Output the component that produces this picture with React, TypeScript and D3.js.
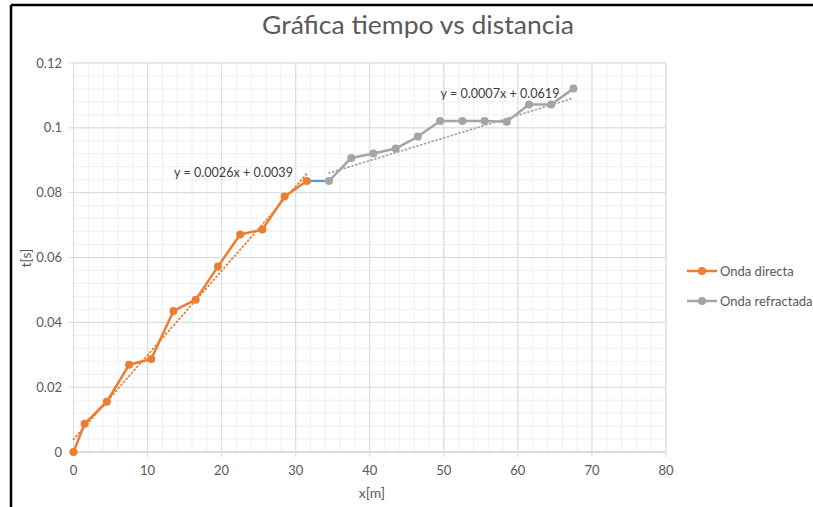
import React from "react";
import * as d3 from "d3";

// Distance (m) and travel time (s) readings
const directX = [0, 1.5, 4.5, 7.5, 10.5, 13.5, 16.5, 19.5, 22.5, 25.5, 28.5, 31.5];
const directT = [0, 0.0087, 0.0155, 0.0269, 0.0287, 0.0435, 0.047, 0.0572, 0.0671, 0.0686, 0.0788, 0.0836];
const refractX = [34.5, 37.5, 40.5, 43.5, 46.5, 49.5, 52.5, 55.5, 58.5, 61.5, 64.5, 67.5];
const refractT = [0.0836, 0.0907, 0.0921, 0.0936, 0.0973, 0.1021, 0.1021, 0.1021, 0.1019, 0.1072, 0.1072, 0.1121];
// Connector between the last direct reading and the first refracted one
const linkX = [31.5, 34.5];
const linkT = [0.0836, 0.0836];

// Linear fits shown on the chart
const directFit = { slope: 0.0026, intercept: 0.0039, from: 0, to: 31.5 };
const refractFit = { slope: 0.0007, intercept: 0.0619, from: 34.5, to: 67.5 };

const xTicks = [0, 10, 20, 30, 40, 50, 60, 70, 80];
const yTicks = [0, 0.02, 0.04, 0.06, 0.08, 0.1, 0.12];
const yTickLabels = ["0", "0.02", "0.04", "0.06", "0.08", "0.1", "0.12"];
const seriesNames = ["Onda directa", "Onda refractada"];

const W = 813;
const H = 507;
const ORANGE = "#ED7D31";
const GRAY = "#A5A5A5";
const BLUE = "#5B9BD5";
const TEXT = "#595959";
const FONT = "Lato, 'Open Sans', sans-serif";

export default function App() {
  const x = d3.scaleLinear().domain([0, 80]).range([73.5, 666]);
  const y = d3.scaleLinear().domain([0, 0.12]).range([452, 63]);

  const line = d3
    .line<[number, number]>()
    .x((d) => x(d[0]))
    .y((d) => y(d[1]));

  const directPts: [number, number][] = directX.map((v, i) => [v, directT[i]]);
  const refractPts: [number, number][] = refractX.map((v, i) => [v, refractT[i]]);
  const linkPts: [number, number][] = linkX.map((v, i) => [v, linkT[i]]);

  const minorX = d3.range(0, 80.001, 2);
  const minorY = d3.range(0, 0.12001, 0.004);

  const fitPts = (f: typeof directFit): [number, number][] => [
    [f.from, f.slope * f.from + f.intercept],
    [f.to, f.slope * f.to + f.intercept],
  ];

  const [x0, x1] = x.range();
  const [yb, yt] = y.range();

  return (
    <svg
      width={W}
      height={H}
      style={{ position: "absolute", left: 0, top: 0, background: "#fff" }}
      fontFamily={FONT}
    >
      <rect x={0} y={0} width={W} height={H} fill="#fff" />
      {/* outer frame */}
      <line x1={11} y1={5} x2={W} y2={5} stroke="#000" strokeWidth={2.5} />
      <line x1={11} y1={5} x2={11} y2={H} stroke="#000" strokeWidth={2.5} />

      <text
        x={418}
        y={34}
        textAnchor="middle"
        fontSize={25}
        fill={TEXT}
        textLength={312}
        lengthAdjust="spacingAndGlyphs"
      >
        Gráfica tiempo vs distancia
      </text>

      {/* minor grid */}
      {minorX.map((v) => (
        <line key={"mx" + v} x1={x(v)} x2={x(v)} y1={yb} y2={yt} stroke="#f0f0f0" strokeWidth={1} />
      ))}
      {minorY.map((v, i) => (
        <line key={"my" + i} x1={x0} x2={x1} y1={y(v)} y2={y(v)} stroke="#f0f0f0" strokeWidth={1} />
      ))}
      {/* major grid */}
      {xTicks.map((v) => (
        <line key={"gx" + v} x1={x(v)} x2={x(v)} y1={yb} y2={yt} stroke="#d9d9d9" strokeWidth={1} />
      ))}
      {yTicks.map((v) => (
        <line key={"gy" + v} x1={x0} x2={x1} y1={y(v)} y2={y(v)} stroke="#d9d9d9" strokeWidth={1} />
      ))}

      {/* axes */}
      <line x1={x0} x2={x0} y1={yb} y2={yt} stroke="#d9d9d9" strokeWidth={1} />
      <line x1={x0} x2={x1} y1={yb} y2={yb} stroke="#d9d9d9" strokeWidth={1.5} />
      {yTicks.map((v) => (
        <line key={"ty" + v} x1={x0 - 5} x2={x0} y1={y(v)} y2={y(v)} stroke="#d9d9d9" strokeWidth={1} />
      ))}
      {xTicks.map((v) => (
        <line key={"tx" + v} x1={x(v)} x2={x(v)} y1={yb} y2={yb + 5} stroke="#d9d9d9" strokeWidth={1} />
      ))}
      {yTicks.map((v, i) => (
        <text key={"ly" + v} x={62} y={y(v)} dy="0.35em" textAnchor="end" fontSize={13} fill={TEXT}>
          {yTickLabels[i]}
        </text>
      ))}
      {xTicks.map((v) => (
        <text key={"lx" + v} x={x(v)} y={475} textAnchor="middle" fontSize={13} fill={TEXT}>
          {v}
        </text>
      ))}

      <text x={372} y={498} textAnchor="middle" fontSize={14} fill={TEXT}>
        x[m]
      </text>
      <text
        transform={`translate(31,258) rotate(-90)`}
        textAnchor="middle"
        fontSize={14}
        fill={TEXT}
      >
        t[s]
      </text>

      {/* trend lines */}
      <path
        d={line(fitPts(directFit)) || ""}
        fill="none"
        stroke={ORANGE}
        strokeWidth={1.8}
        strokeDasharray="1 3"
        strokeLinecap="round"
      />
      <path
        d={line(fitPts(refractFit)) || ""}
        fill="none"
        stroke={GRAY}
        strokeWidth={1.8}
        strokeDasharray="1 3"
        strokeLinecap="round"
      />

      {/* series */}
      <path d={line(linkPts) || ""} fill="none" stroke={BLUE} strokeWidth={2.25} />
      <path d={line(refractPts) || ""} fill="none" stroke={GRAY} strokeWidth={2.5} strokeLinejoin="round" />
      <path d={line(directPts) || ""} fill="none" stroke={ORANGE} strokeWidth={2.5} strokeLinejoin="round" />
      {refractPts.map((p, i) => (
        <circle key={"rp" + i} cx={x(p[0])} cy={y(p[1])} r={4} fill={GRAY} />
      ))}
      {directPts.map((p, i) => (
        <circle key={"dp" + i} cx={x(p[0])} cy={y(p[1])} r={4} fill={ORANGE} />
      ))}

      {/* fit equations */}
      <text x={233.5} y={177} textAnchor="middle" fontSize={12.6} fill="#404040">
        y = 0.0026x + 0.0039
      </text>
      <text x={500} y={98} textAnchor="middle" fontSize={12.6} fill="#404040">
        y = 0.0007x + 0.0619
      </text>

      {/* legend */}
      {seriesNames.map((name, i) => {
        const c = i === 0 ? ORANGE : GRAY;
        const ly = 271 + i * 30;
        return (
          <g key={name}>
            <line x1={687} x2={717} y1={ly} y2={ly} stroke={c} strokeWidth={2.5} />
            <circle cx={702} cy={ly} r={4} fill={c} />
            <text x={720} y={ly} dy="0.35em" fontSize={13} fill={TEXT}>
              {name}
            </text>
          </g>
        );
      })}
    </svg>
  );
}
